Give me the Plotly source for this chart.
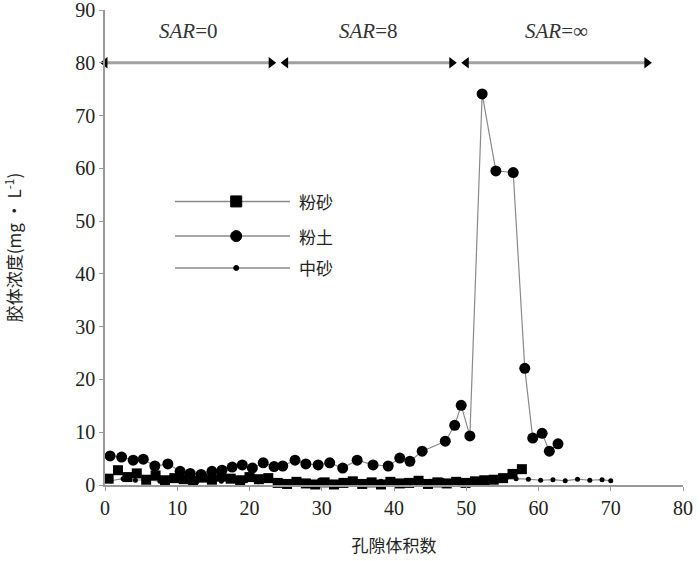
import plotly.graph_objects as go

# ---------------- Data ---------------- #
# 粉土 (silt) - circles
silt_x = [0.7, 2.3, 3.9, 5.3, 6.9, 8.7, 10.4, 11.8, 13.3, 14.8, 16.2, 17.6, 19.0, 20.4,
          21.9, 23.4, 24.6, 26.3, 27.8, 29.5, 31.1, 32.9, 34.9, 37.1, 39.2, 40.8, 42.2,
          43.9, 47.1, 48.4, 49.3, 50.5, 52.2, 54.1, 56.5, 58.1, 59.2, 60.5, 61.5, 62.7]
silt_y = [5.5, 5.3, 4.7, 4.9, 3.6, 4.0, 2.6, 2.2, 2.0, 2.6, 2.8, 3.4, 3.8, 3.2,
          4.2, 3.5, 3.6, 4.7, 4.0, 3.8, 4.2, 3.2, 4.7, 3.8, 3.6, 5.1, 4.5,
          6.4, 8.3, 11.3, 15.1, 9.3, 74.1, 59.5, 59.2, 22.1, 8.9, 9.8, 6.4, 7.8]

# 粉砂 (silty sand) - squares
silty_sand_x = [0.5, 1.8, 3.1, 4.4, 5.7, 7.0, 8.3, 9.6, 10.9, 12.2, 13.5, 14.8, 16.1, 17.4,
                18.7, 20.0, 21.3, 22.6, 23.9, 25.2, 26.5, 27.8, 29.1, 30.4, 31.7, 33.0,
                34.3, 35.6, 36.9, 38.2, 39.5, 40.8, 42.1, 43.4, 44.7, 46.0, 47.3, 48.6,
                49.9, 51.2, 52.5, 53.8, 55.1, 56.4, 57.7]
silty_sand_y = [1.2, 2.8, 1.5, 2.2, 1.0, 1.8, 0.9, 1.3, 1.1, 0.8, 1.4, 1.0, 1.6, 1.2,
                0.9, 1.5, 1.1, 1.3, 0.4, 0.2, 0.6, 0.3, 0.1, 0.5, 0.1, 0.4,
                0.7, 0.2, 0.5, 0.1, 0.6, 0.3, 0.4, 0.8, 0.2, 0.5, 0.3, 0.6,
                0.4, 0.7, 0.9, 1.0, 1.3, 2.1, 3.0]

# 中砂 (medium sand) - small dots
medium_sand_x = [0.8, 2.5, 4.2, 5.9, 7.6, 9.3, 11.0, 12.7, 14.4, 16.1, 17.8, 19.5, 21.2,
                 22.9, 24.6, 26.3, 28.0, 29.7, 31.4, 33.1, 34.8, 36.5, 38.2, 39.9, 41.6,
                 43.3, 45.0, 46.7, 48.4, 50.1, 51.8, 53.5, 55.2, 56.9, 58.6, 60.3, 62.0,
                 63.7, 65.4, 67.1, 68.8, 70.0]
medium_sand_y = [0.8, 1.2, 0.9, 1.0, 0.7, 1.1, 0.8, 0.6, 0.9, 0.7, 1.0, 0.8, 0.6,
                 0.9, 0.7, 0.8, 0.6, 0.9, 0.5, 0.7, 0.8, 0.6, 0.7, 0.5, 0.8,
                 0.6, 0.7, 0.9, 0.6, 0.8, 0.7, 0.9, 1.0, 1.2, 1.1, 0.9, 1.0,
                 0.8, 1.1, 0.9, 1.0, 0.8]

# SAR stage brackets
sar_labels = ["<i>SAR</i>=0", "<i>SAR</i>=8", "<i>SAR</i>=∞"]
sar_start = [0, 25, 50]
sar_end = [23, 48, 75]
sar_level = 80
sar_text_level = 86

# Legend entries
legend_names = ["粉砂", "粉土", "中砂"]
legend_rows = [0.597, 0.524, 0.457]

# ---------------- Figure ---------------- #
fig = go.Figure()

line_gray = "#8a8a8a"

fig.add_trace(go.Scatter(x=medium_sand_x, y=medium_sand_y, mode="lines+markers", name="中砂",
                         line=dict(color=line_gray, width=1.2),
                         marker=dict(symbol="circle", size=5, color="black"),
                         cliponaxis=False))
fig.add_trace(go.Scatter(x=silty_sand_x, y=silty_sand_y, mode="lines+markers", name="粉砂",
                         line=dict(color=line_gray, width=1.2),
                         marker=dict(symbol="square", size=10, color="black"),
                         cliponaxis=False))
fig.add_trace(go.Scatter(x=silt_x, y=silt_y, mode="lines+markers", name="粉土",
                         line=dict(color=line_gray, width=1.2),
                         marker=dict(symbol="circle", size=11, color="black"),
                         cliponaxis=False))

# SAR arrows
for lab, x0, x1 in zip(sar_labels, sar_start, sar_end):
    fig.add_trace(go.Scatter(x=[x0, x1], y=[sar_level, sar_level], mode="lines+markers",
                             line=dict(color="#a0a0a0", width=3),
                             marker=dict(symbol=["triangle-left", "triangle-right"], size=10,
                                         color="black"),
                             showlegend=False, cliponaxis=False))
    fig.add_annotation(x=(x0 + x1) / 2, y=sar_text_level, text=lab, showarrow=False,
                       font=dict(family="Liberation Serif", size=21, color="#333"))

# Custom legend (long sample lines like the original)
legend_symbols = ["square", "circle", "dot"]
for name, yy, sym in zip(legend_names, legend_rows, legend_symbols):
    fig.add_shape(type="line", xref="paper", yref="paper", x0=0.121, x1=0.32, y0=yy, y1=yy,
                  line=dict(color=line_gray, width=1.5))
    size = 11 if sym != "dot" else 5
    shape_type = "rect" if sym == "square" else "circle"
    fig.add_shape(type=shape_type, xref="paper", yref="paper", xsizemode="pixel",
                  ysizemode="pixel", xanchor=0.227, yanchor=yy,
                  x0=-size / 2, x1=size / 2, y0=-size / 2, y1=size / 2,
                  fillcolor="black", line=dict(color="black", width=1))
    fig.add_annotation(xref="paper", yref="paper", x=0.333, y=yy, text=name, showarrow=False,
                       xanchor="left", font=dict(family="Noto Sans CJK SC", size=17, color="#222"))

# Stylings
axis_style = dict(showline=True, linecolor="#999", linewidth=1.5, showgrid=False,
                  zeroline=False, ticks="outside", ticklen=4, tickcolor="#999", automargin=False,
                  ticklabeloverflow="allow",
                  tickfont=dict(family="Liberation Serif", size=20, color="#222"))
fig.update_xaxes(range=[0, 80], dtick=10, **axis_style,
                 title=dict(text="孔隙体积数", standoff=22,
                            font=dict(family="Noto Sans CJK SC", size=17, color="#222")))
fig.update_yaxes(range=[0, 90], dtick=10, **axis_style,
                 title=dict(text="胶体浓度(mg · L<sup>-1</sup>)", standoff=55,
                            font=dict(family="Noto Sans CJK SC", size=17, color="#222")))

fig.update_layout(width=700, height=561, showlegend=False,
                  paper_bgcolor="white", plot_bgcolor="white",
                  margin=dict(l=105, r=17, t=10, b=76))

# drop the page's default body margin so the figure fills the window exactly
fig.write_html("out.html", config={"displayModeBar": False},
               post_script="document.body.style.margin='0';")
